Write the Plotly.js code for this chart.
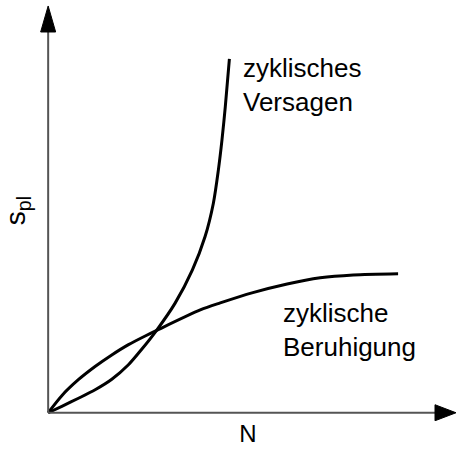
<!DOCTYPE html>
<html>
<head>
<meta charset="utf-8">
<script src="https://cdn.plot.ly/plotly-3.0.1.min.js"></script>
<style>html,body{margin:0;padding:0;background:#fff;}#chart{width:456px;height:450px;}</style>
</head>
<body>
<div id="chart"></div>
<script>
// Cyclic failure (zyklisches Versagen): N vs s_pl
const versagenN = [0, 0.336, 0.743, 1.152, 1.561, 1.968, 2.304, 2.659, 3.113, 3.537, 3.848, 4.051, 4.174, 4.262, 4.343, 4.444];
const versagenS = [0, 0.157, 0.351, 0.557, 0.811, 1.162, 1.550, 1.998, 2.656, 3.462, 4.269, 5.077, 5.884, 6.610, 7.409, 8.571];
// Cyclic stabilisation (zyklische Beruhigung)
const beruhigungN = [0, 0.34, 0.74, 1.15, 1.56, 1.97, 2.38, 2.65, 3.73, 4.22, 5.02, 5.86, 6.67, 7.48, 8.58];
const beruhigungS = [0, 0.42, 0.80, 1.12, 1.40, 1.65, 1.86, 1.99, 2.49, 2.66, 2.91, 3.12, 3.27, 3.34, 3.37];
const labels = ["zyklisches<br>Versagen", "zyklische<br>Beruhigung"];
const labelN = [4.73, 5.71];
const labelS = [7.94, 2.01];
const xTitle = "N";
const yTitle = "s<sub>pl</sub>";

const xRange = [-0.2, 10];
const yRange = [-0.2, 10];
const axisColor = "#555555";
const font = "Liberation Sans, Arial, sans-serif";

const traces = [
  {x: versagenN, y: versagenS, mode: "lines", line: {color: "#000", width: 3, shape: "spline", smoothing: 0.8}, hoverinfo: "skip"},
  {x: beruhigungN, y: beruhigungS, mode: "lines", line: {color: "#000", width: 3, shape: "spline", smoothing: 0.8}, hoverinfo: "skip"}
];

// axis arrows (decoration) relative to the axis ranges
const yTip = 9.855, yBase = 9.225, yHalf = 0.184;
const xTip = 10.0, xBase = 9.485, xHalf = 0.194;
const shapes = [
  {type: "line", xref: "x", yref: "y", x0: 0, y0: 0, x1: 0, y1: yBase + 0.05, line: {color: axisColor, width: 2}},
  {type: "line", xref: "x", yref: "y", x0: 0, y0: 0, x1: xBase + 0.05, y1: 0, line: {color: axisColor, width: 2}},
  {type: "path", xref: "x", yref: "y", layer: "above", path: `M ${-yHalf},${yBase} L 0,${yTip} L ${yHalf},${yBase} Z`, fillcolor: "#000000", line: {color: "#000000", width: 1}},
  {type: "path", xref: "x", yref: "y", layer: "above", path: `M ${xBase},${-xHalf} L ${xTip},0 L ${xBase},${xHalf} Z`, fillcolor: "#000000", line: {color: "#000000", width: 1}}
];

const annotations = labels.map((t, i) => ({
  text: t, x: labelN[i], y: labelS[i], xref: "x", yref: "y",
  xanchor: "left", yanchor: "middle", align: "left", showarrow: false,
  font: {family: font, size: 26, color: "#000"}
}));

const layout = {
  width: 456, height: 450,
  margin: {l: 39.84, r: 0, t: 0, b: 28.74},
  paper_bgcolor: "#fff", plot_bgcolor: "#fff",
  showlegend: false,
  font: {family: font, color: "#000"},
  xaxis: {range: xRange, showgrid: false, zeroline: false, showline: false, showticklabels: false, ticks: "",
          title: {text: xTitle, font: {family: font, size: 24, color: "#000"}, standoff: 4}, automargin: false, fixedrange: true},
  yaxis: {range: yRange, showgrid: false, zeroline: false, showline: false, showticklabels: false, ticks: "",
          title: {text: yTitle, font: {family: font, size: 28, color: "#000"}, standoff: 14}, automargin: false, fixedrange: true},
  shapes: shapes,
  annotations: annotations
};

Plotly.newPlot("chart", traces, layout, {displayModeBar: false, staticPlot: true});
</script>
</body>
</html>
